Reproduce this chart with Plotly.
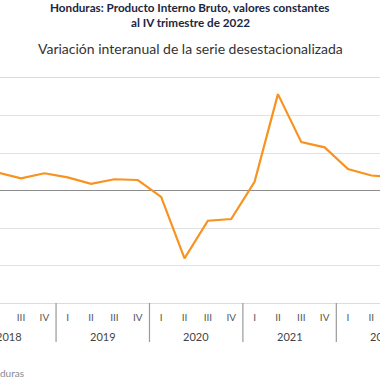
import plotly.graph_objects as go

# ---- data ----
years = [2018, 2019, 2020, 2021, 2022]
quarter_labels = ["I", "II", "III", "IV"]
# quarterly series, index 0 = 2018 Q1
series_start_index = 1  # first value is 2018 Q2
growth = [4.8, 3.25, 4.6, 3.5, 1.8, 3.0, 2.8, -1.7, -18.1, -8.05, -7.6,
          2.3, 25.7, 12.9, 11.5, 5.7, 4.0, 3.6]
y_ticks = [-30, -20, -10, 0, 10, 20, 30]

title1 = "Honduras: Producto Interno Bruto, valores constantes"
title2 = "al IV trimestre de 2022"
subtitle = "Variación interanual de la serie desestacionalizada"
source = "Fuente: Banco Central de Honduras"

# ---- derived ----
x_idx = [series_start_index + i for i in range(len(growth))]
tick_vals = [i for i in range(len(years) * 4)]
tick_text = [quarter_labels[i % 4] for i in tick_vals]
x_range = [1.10, 17.37]

fig = go.Figure()
fig.add_trace(go.Scatter(
    x=x_idx, y=growth, mode="lines",
    line=dict(color="#F7931E", width=2.2),
    hoverinfo="skip", showlegend=False,
))

FONT = "Lato, 'Noto Sans', sans-serif"

fig.update_layout(
    width=380, height=380,
    margin=dict(l=0, r=0, t=78, b=77),
    paper_bgcolor="white", plot_bgcolor="white",
    font=dict(family=FONT, color="#444"),
    showlegend=False,
)
fig.update_xaxes(
    range=x_range, tickvals=tick_vals, ticktext=tick_text,
    showgrid=False, zeroline=False,
    showline=True, mirror=True, linecolor="#dcdcdc", linewidth=1,
    ticks="outside", ticklen=5, tickcolor="rgba(0,0,0,0)",
    tickfont=dict(size=10, color="#555"),
    fixedrange=True,
)
fig.update_yaxes(
    range=[-30, 30], tickvals=y_ticks, showticklabels=False,
    showgrid=True, gridcolor="#e2e2e2", gridwidth=1,
    zeroline=True, zerolinecolor="#8c8c8c", zerolinewidth=1.2,
    fixedrange=True,
)

plot_h = 380 - 78 - 77
def py(p):
    return (303 - p) / plot_h

# year separators and labels
px_per_unit = 380 / (x_range[1] - x_range[0])
for k, yr in enumerate(years):
    center = k * 4 + 1.5
    if k > 0:
        fig.add_shape(type="line", xref="x", yref="paper",
                      x0=k * 4 - 0.5, x1=k * 4 - 0.5, y0=0, y1=py(342),
                      line=dict(color="#9a9a9a", width=1.2))
    xpos = min(center, x_range[1] - 0.05)
    fig.add_annotation(x=xpos, xref="x", y=py(336), yref="paper",
                       xshift=(center - xpos) * px_per_unit,
                       text=str(yr), showarrow=False, xanchor="center",
                       yanchor="middle", font=dict(size=11, color="#444"))

fig.add_annotation(x=0.5, xref="paper", y=py(7), yref="paper",
                   text="<b>" + title1 + "</b>", showarrow=False,
                   yanchor="middle", font=dict(size=11.7, color="#1c2640"))
fig.add_annotation(x=0.5, xref="paper", y=py(22), yref="paper",
                   text="<b>" + title2 + "</b>", showarrow=False,
                   yanchor="middle", font=dict(size=11.7, color="#1c2640"))
fig.add_annotation(x=0.5, xref="paper", y=py(48), yref="paper",
                   text=subtitle, showarrow=False,
                   yanchor="middle", font=dict(size=14, color="#333"))
fig.add_annotation(x=0, xref="paper", y=py(373), yref="paper",
                   xshift=26, text=source, showarrow=False,
                   xanchor="right", yanchor="middle",
                   font=dict(size=10, color="#8a8a8a"))

fig.write_html("out.html", config={"displayModeBar": False},
               post_script="document.body.style.margin='0';")
